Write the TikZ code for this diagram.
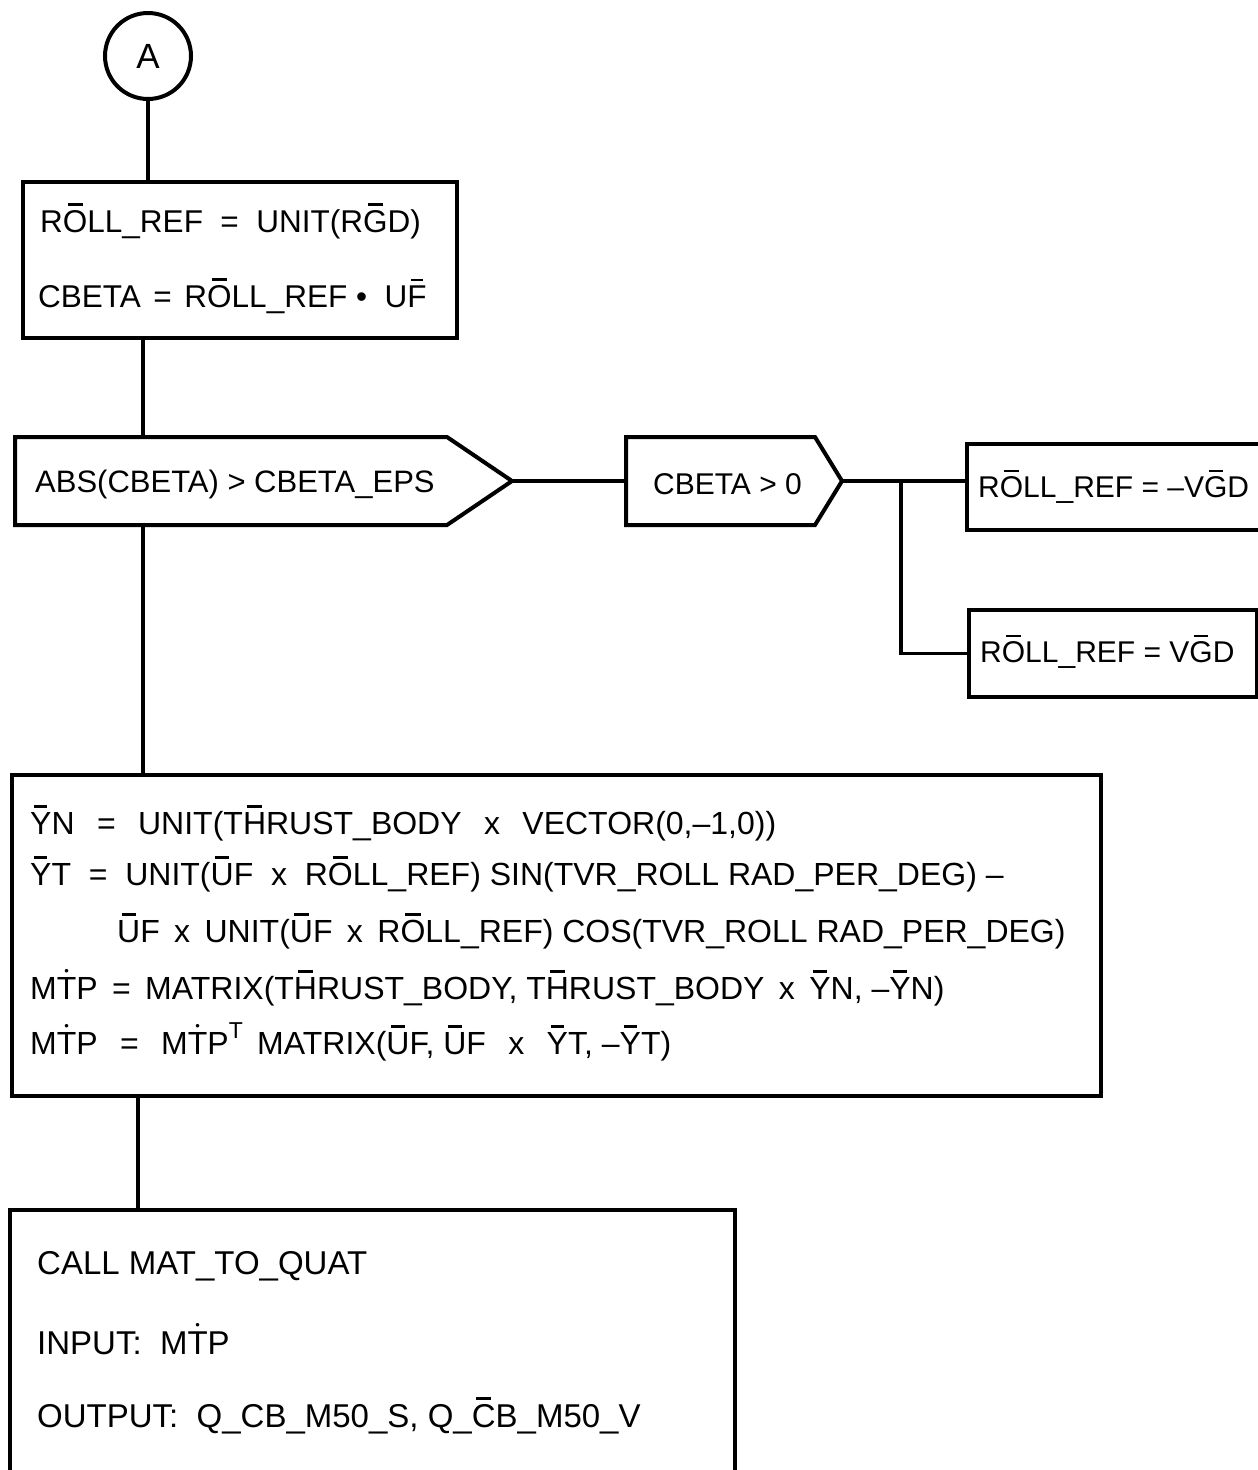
\documentclass[tikz,border=0pt]{standalone}
\usepackage{fontspec}
\setmainfont{Liberation Sans}
\usetikzlibrary{positioning, calc}
\definecolor{fcInk}{HTML}{000000}
\newcommand{\vbar}[1]{\leavevmode\setbox0\hbox{#1}\rlap{\smash{\hbox to \wd0{\hss\rule[1.18\ht0]{0.62\wd0}{2.6pt}\hss}}}\box0}
\newcommand{\vdt}[1]{\leavevmode\setbox0\hbox{#1}\rlap{\smash{\hbox to \wd0{\hss\raisebox{1.08\ht0}{\fontsize{13}{13}\selectfont •}\hss}}}\box0}
\newcommand{\fsz}[1]{\fontsize{#1}{#1}\selectfont}
\newcommand{\gapw}[1]{\hspace{#1em}}
\newcommand{\supT}{\raisebox{0.5em}{\fsz{23}T}}

\begin{document}
\begin{tikzpicture}[x=1pt, y=-1pt, font=\fsz{31},
  outline/.style={draw=fcInk, line width=4pt},
  flowbox/.style={outline, rectangle, inner sep=0pt, anchor=north west},
  flowline/.style={draw=fcInk, line width=3.2pt},
  txt/.style={inner sep=0pt, anchor=base west, text=fcInk}]
  \useasboundingbox (0,0) rectangle (1258,1470);

  \node[outline, circle, minimum size=86, inner sep=0pt, font=\fsz{35}] (conA) at (148,56) {A};
  \node[flowbox, minimum width=434, minimum height=156] (refbox) at (21,180) {};
  \node[flowbox, minimum width=300, minimum height=86] (negbox) at (965,442) {};
  \node[flowbox, minimum width=288, minimum height=87] (posbox) at (967,608) {};
  \node[flowbox, minimum width=1089, minimum height=321] (orient) at (10,773) {};
  \node[flowbox, minimum width=725, minimum height=280] (quat) at (8,1208) {};

  \foreach \l/\r/\t/\name in {15/447/512/absck, 626/815/842/sgnck}{
    \draw[outline, line join=miter] (\l,481-44) -- (\r,481-44) -- (\t,481) -- (\r,481+44) -- (\l,481+44) -- cycle;
    \coordinate (\name-w) at (\l,481);
    \coordinate (\name-e) at (\t,481);
    \coordinate (\name-n) at (\l,481-44);
    \coordinate (\name-s) at (\l,481+44);
  }

  \node[txt, font=\fsz{31.5}] (refl1) at (40,232) {R\vbar{O}LL\_REF\ \ =\ \ UNIT(R\vbar{G}D)};
  \node[txt, font=\fsz{31.5}] (refl2) at (38,307) {CBETA\gapw{0.4}=\gapw{0.4}R\vbar{O}LL\_REF\ •\ \ U\vbar{F}};
  \node[txt] (abstxt) at (35,492) {ABS(CBETA) > CBETA\_EPS};
  \node[txt, font=\fsz{30}] (sgntxt) at (653,494) {CBETA > 0};
  \node[txt, font=\fsz{30}] (negtxt) at (978,497) {R\vbar{O}LL\_REF\ =\ –V\vbar{G}D};
  \node[txt, font=\fsz{30}] (postxt) at (980,662) {R\vbar{O}LL\_REF\ =\ V\vbar{G}D};

  \foreach \yy/\xx/\ln [count=\i] in {
    834/30/{\vbar{Y}N\gapw{0.7}=\gapw{0.7}UNIT(T\vbar{H}RUST\_BODY\gapw{0.7}x\gapw{0.7}VECTOR(0,–1,0))},
    885/30/{\vbar{Y}T\ \ =\ \ UNIT(\vbar{U}F\ \ x\ \ R\vbar{O}LL\_REF) SIN(TVR\_ROLL RAD\_PER\_DEG) –},
    942/117/{\vbar{U}F\gapw{0.45}x\gapw{0.45}UNIT(\vbar{U}F\gapw{0.45}x\gapw{0.45}R\vbar{O}LL\_REF) COS(TVR\_ROLL RAD\_PER\_DEG)},
    999/30/{M\vdt{T}P\gapw{0.45}=\gapw{0.45}MATRIX(T\vbar{H}RUST\_BODY, T\vbar{H}RUST\_BODY\gapw{0.45}x\gapw{0.45}\vbar{Y}N, –\vbar{Y}N)},
    1054/30/{M\vdt{T}P\gapw{0.7}=\gapw{0.7}M\vdt{T}P\supT\gapw{0.45}MATRIX(\vbar{U}F, \vbar{U}F\gapw{0.7}x\gapw{0.7}\vbar{Y}T, –\vbar{Y}T)}}{
    \node[txt, font=\fsz{32}] (orient-\i) at (\xx,\yy) {\ln};
  }

  \foreach \yy/\ln [count=\i] in {
    1274/{CALL MAT\_TO\_QUAT},
    1354/{INPUT:\ \ M\vdt{T}P},
    1427/{OUTPUT:\ \ Q\_CB\_M50\_S, Q\_\vbar{C}B\_M50\_V}}{
    \node[txt, font=\fsz{33}] (quat-\i) at (37,\yy) {\ln};
  }

  \coordinate (trunk) at (143,0);
  \coordinate (fork) at (901,0);
  \coordinate (stem) at (138,0);
  \draw[flowline] (conA.south) -- (conA.south |- refbox.north);
  \draw[flowline] (trunk |- refbox.south) -- (trunk |- absck-n);
  \draw[flowline] (absck-e) -- (sgnck-w);
  \draw[flowline] (sgnck-e) -- (sgnck-e -| negbox.west);
  \draw[flowline] (fork |- sgnck-e) |- (posbox.west);
  \draw[flowline] (trunk |- absck-s) -- (trunk |- orient.north);
  \draw[flowline] (stem |- orient.south) -- (stem |- quat.north);
\end{tikzpicture}
\end{document}
